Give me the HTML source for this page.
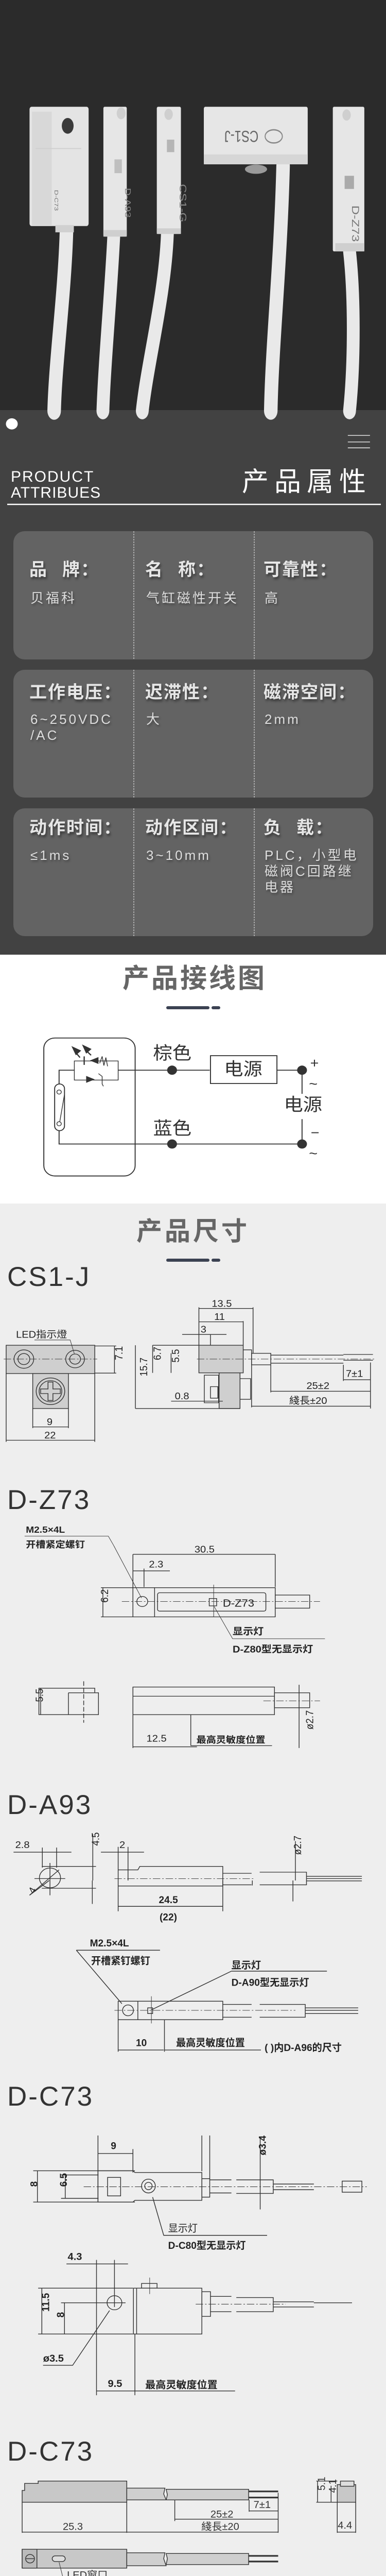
<!DOCTYPE html>
<html style="height:5066px;overflow:hidden"><head><meta charset="utf-8">
<style>
*{margin:0;padding:0;box-sizing:border-box}
body{width:750px;height:5066px;position:relative;background:#eeeeee;font-family:"Liberation Sans","Noto Sans CJK SC",sans-serif;overflow:hidden}
.a{position:absolute;white-space:nowrap;line-height:1}
.lb{font-size:34px;font-weight:bold;color:#e6e6e6;letter-spacing:2px;text-shadow:2px 4px 5px rgba(0,0,0,.45)}
.vl{font-size:26px;color:#dedede;letter-spacing:4px;line-height:31px;text-shadow:2px 3px 4px rgba(0,0,0,.35)}
.mt{font-size:53px;color:#333;letter-spacing:3px}
svg text{font-family:"Liberation Sans","Noto Sans CJK SC",sans-serif}
</style></head><body>
<svg style="position:absolute;left:0;top:0;display:block" width="750" height="5066" viewBox="0 0 750 5066" overflow="hidden">
<rect x="0" y="0" width="750" height="800" fill="#2b2b2b"/>
<rect x="0" y="796" width="750" height="1057" fill="#424242"/>
<rect x="0" y="1853" width="750" height="483" fill="#ffffff"/>
<rect x="0" y="2336" width="750" height="2730" fill="#eeeeee"/>

<g transform="translate(0,0) scale(0.4783,0.6378)">
 <g fill="none" stroke="#e9e9e9" stroke-linecap="round">
  <path d="M270,705 C262,900 225,1100 220,1250" stroke-width="55"/>
  <path d="M462,720 C450,900 425,1100 418,1250" stroke-width="52"/>
  <path d="M680,712 C670,900 600,1100 578,1250" stroke-width="52"/>
  <path d="M1150,505 C1140,800 1105,1050 1100,1250" stroke-width="55"/>
  <path d="M1420,765 C1440,900 1440,1100 1420,1250" stroke-width="52"/>
 </g>
 <rect x="120" y="325" width="240" height="363" rx="8" fill="#e4e4e4"/>
 <rect x="130" y="340" width="80" height="345" fill="#d8d8d8"/>
 <line x1="145" y1="452" x2="330" y2="452" stroke="#cfcfcf" stroke-width="3"/>
 <circle cx="275" cy="383" r="24" fill="#3a3a3a"/>
 <rect x="225" y="685" width="75" height="22" fill="#d0d0d0"/>
 <text x="240" y="640" font-size="22" fill="#777" transform="rotate(90 262 600)">D-C73</text>
 <rect x="420" y="325" width="95" height="395" rx="5" fill="#e6e6e6"/>
 <circle cx="492" cy="345" r="18" fill="#cfcfcf"/>
 <rect x="465" y="485" width="30" height="42" fill="#bfbfbf"/>
 <rect x="420" y="700" width="95" height="20" fill="#cfcfcf"/>
 <rect x="637" y="325" width="98" height="387" rx="5" fill="#e6e6e6"/>
 <circle cx="685" cy="348" r="17" fill="#cfcfcf"/>
 <rect x="678" y="425" width="30" height="38" fill="#b5b5b5"/>
 <rect x="637" y="695" width="98" height="17" fill="#cfcfcf"/>
 <rect x="828" y="325" width="422" height="175" rx="6" fill="#e6e6e6"/>
 <rect x="828" y="470" width="422" height="30" fill="#d6d6d6"/>
 <ellipse cx="1040" cy="515" rx="45" ry="14" fill="#9a9a9a"/>
 <ellipse cx="1112" cy="415" rx="35" ry="20" fill="none" stroke="#888" stroke-width="4"/>
 <text x="880" y="432" font-size="50" fill="#666" transform="rotate(180 965 415)">CS1-J</text>
 <rect x="1352" y="325" width="128" height="440" rx="5" fill="#e6e6e6"/>
 <circle cx="1408" cy="350" r="17" fill="#cfcfcf"/>
 <rect x="1400" y="535" width="38" height="40" fill="#aaaaaa"/>
 <rect x="1362" y="740" width="118" height="25" fill="#cfcfcf"/>
 <text x="1395" y="640" font-size="40" fill="#777" transform="rotate(90 1420 650)">D-Z73</text>
 <text x="650" y="560" font-size="38" fill="#888" transform="rotate(90 690 600)">CS1-G</text>
 <text x="440" y="560" font-size="32" fill="#888" transform="rotate(90 468 600)">D-A93</text>
 <ellipse cx="48" cy="1290" rx="24" ry="17" fill="#fff"/>
 <g stroke="#fff" stroke-width="2"><line x1="1413" y1="1325" x2="1503" y2="1325"/><line x1="1413" y1="1345" x2="1503" y2="1345"/><line x1="1413" y1="1363" x2="1503" y2="1363"/></g>
</g>
<line x1="14" y1="979" x2="740" y2="979" stroke="#fff" stroke-width="2.5"/>

<g fill="#636363">
<rect x="26" y="1031" width="699" height="249" rx="22"/>
<rect x="26" y="1300" width="699" height="248" rx="22"/>
<rect x="26" y="1569" width="699" height="248" rx="22"/>
</g>
<g stroke="#f2f2f2" stroke-width="1" stroke-dasharray="3,2">
<line x1="260" y1="1031" x2="260" y2="1280"/><line x1="494" y1="1031" x2="494" y2="1280"/>
<line x1="260" y1="1300" x2="260" y2="1548"/><line x1="494" y1="1300" x2="494" y2="1548"/>
<line x1="260" y1="1569" x2="260" y2="1817"/><line x1="494" y1="1569" x2="494" y2="1817"/>
</g>
<rect x="323" y="1953" width="84" height="6" rx="3" fill="#3b4252"/>
<rect x="411" y="1953" width="17" height="6" rx="3" fill="#3b4252"/>
<rect x="323" y="2443" width="84" height="6" rx="3" fill="#3b4252"/>
<rect x="411" y="2443" width="17" height="6" rx="3" fill="#3b4252"/>

<g transform="translate(0,1700) scale(0.4783,0.4464)" stroke="#333" fill="none" stroke-width="4">
 <rect x="178" y="705" width="371" height="600" rx="45"/>
 <path d="M240,905 V845 H302 M480,845 H852 M1125,845 H1227 V948 M1227,1058 V1166 H240 V1108"/>
 <rect x="302" y="805" width="178" height="83" stroke-width="3"/>
 <rect x="855" y="782" width="270" height="121"/>
 <rect x="222" y="905" width="40" height="203" rx="20"/>
 <circle cx="240" cy="940" r="9" stroke-width="3"/><circle cx="240" cy="1078" r="9" stroke-width="3"/>
 <line x1="262" y1="950" x2="243" y2="1068" stroke-width="3"/>
 <line x1="342" y1="785" x2="342" y2="822" stroke-width="5"/>
 <polygon points="365,803 400,788 400,818" fill="#333" stroke="none"/>
 <polygon points="385,885 350,870 350,900" fill="#333" stroke="none"/>
 <path d="M400,860 L415,872 V905 L420,915 M405,815 L415,785 L422,825 L430,790 L437,828" stroke-width="3"/>
 <polygon points="290,740 330,760 308,780" fill="#333" stroke="none"/><line x1="305" y1="765" x2="325" y2="790" stroke-width="5"/>
 <polygon points="333,733 372,753 350,773" fill="#333" stroke="none"/><line x1="348" y1="758" x2="370" y2="780" stroke-width="5"/>
 <g fill="#333" stroke="none"><circle cx="699" cy="845" r="20"/><circle cx="1227" cy="845" r="20"/><circle cx="699" cy="1166" r="20"/><circle cx="1227" cy="1166" r="20"/></g>
 <g fill="#333" stroke="none" font-size="78">
  <text x="622" y="797">棕色</text><text x="622" y="1125">蓝色</text>
  <text x="910" y="867">电源</text><text x="1153" y="1022">电源</text>
  <text x="1260" y="835" font-size="60">+</text><text x="1255" y="925" font-size="60">~</text>
  <text x="1262" y="1137" font-size="60">−</text><text x="1255" y="1228" font-size="60">~</text>
 </g>
</g>

<g transform="translate(0,2350) scale(0.4783,0.4464)" stroke="#333" fill="none" stroke-width="3" font-size="42">
 <rect x="25" y="585" width="360" height="123" fill="#cfcfcf"/>
 <rect x="133" y="708" width="145" height="152" fill="#cfcfcf"/>
 <path d="M25,708 V1005 M385,708 V1005 M133,860 V945 M278,860 V945"/>
 <circle cx="97" cy="645" r="40"/><circle cx="97" cy="645" r="24"/>
 <circle cx="305" cy="645" r="38"/><circle cx="305" cy="645" r="22"/>
 <circle cx="205" cy="785" r="58"/><circle cx="205" cy="785" r="46"/>
 <path d="M195,745 H215 V775 H245 V795 H215 V825 H195 V795 H165 V775 H195Z" stroke-width="3"/>
 <line x1="15" y1="645" x2="395" y2="645" stroke-dasharray="30,8,6,8" stroke-width="2"/>
 <path d="M385,588 H472 M385,706 H472 M465,588 V706"/>
 <path d="M140,562 H285 L302,622" stroke-width="2"/>
 <path d="M133,940 H278 M25,998 H385"/>
 <rect x="808" y="585" width="180" height="120" fill="#cfcfcf"/>
 <rect x="890" y="705" width="85" height="155" fill="#cfcfcf"/>
 <path d="M620,585 H808 M975,730 H1018 V820 H975 M830,715 H888 V835 H830Z M855,765 H885 V815 H855Z"/>
 <rect x="1022" y="620" width="78" height="50"/>
 <path d="M988,605 H1022 V680 M1100,628 H1395 M1100,663 H1395 M1395,625 H1515 M1395,650 H1515" />
 <line x1="800" y1="645" x2="1520" y2="645" stroke-dasharray="30,8,6,8" stroke-width="2"/>
 <path d="M808,420 V585 M1028,420 V620 M988,480 V585 M855,538 V585 M808,425 H1028 M808,483 H988 M740,538 H920"/>
 <path d="M550,585 V860 M620,585 V705 M695,620 V705 M695,828 H905 M550,860 H975"/>
 <path d="M1395,670 V740 M1505,660 V860 M1395,735 H1505 M1100,670 V790 M1100,785 H1505 M1022,680 V855 M1022,850 H1505"/>
 <g fill="#222" stroke="none">
  <text x="65" y="552">LED指示燈</text>
  <text x="190" y="932">9</text><text x="180" y="990">22</text>
  <text x="458" y="690" transform="rotate(-90 458 650)" font-size="44">7.1</text>
  <text x="860" y="418">13.5</text><text x="870" y="475">11</text><text x="815" y="530">3</text>
  <text x="548" y="770" transform="rotate(-90 548 720)">15.7</text>
  <text x="613" y="690" transform="rotate(-90 613 650)">6.7</text>
  <text x="688" y="700" transform="rotate(-90 688 660)">5.5</text>
  <text x="710" y="820">0.8</text><text x="1405" y="722">7±1</text>
  <text x="1245" y="775">25±2</text><text x="1175" y="840">綫長±20</text>
  <text x="105" y="1400" font-weight="bold" font-size="40">M2.5×4L</text>
  <text x="105" y="1465" font-weight="bold" font-size="40">开槽紧定螺钉</text>
 </g>
 <path d="M100,1415 H440 L462,1456" stroke-width="2"/>
</g>

<g transform="translate(0,3000) scale(0.4783,0.4464)" stroke="#333" fill="none" stroke-width="3" font-size="42">
 <path d="M462,0 L575,228" stroke-width="2"/>
 <path d="M540,38 H1118 M540,38 V185 M1118,38 V180 M540,110 H690 M585,100 V180"/>
 <path d="M410,183 H1118 V310 H410"/>
 <line x1="540" y1="183" x2="540" y2="310"/><line x1="628" y1="183" x2="628" y2="310"/>
 <rect x="640" y="205" width="440" height="80" rx="8"/>
 <circle cx="578" cy="243" r="22"/>
 <path d="M418,183 V310"/>
 <rect x="850" y="230" width="30" height="32"/><line x1="868" y1="170" x2="868" y2="310" stroke-width="2"/>
 <rect x="1118" y="215" width="140" height="57"/>
 <line x1="495" y1="243" x2="1300" y2="243" stroke-dasharray="30,8,6,8" stroke-width="2"/>
 <path d="M870,265 L945,405 H1320" stroke-width="2"/>
 <path d="M158,620 H385 V640 H400 V735 H158Z M278,640 V735 M278,640 H385"/>
 <line x1="340" y1="590" x2="340" y2="770" stroke-dasharray="20,8"/>
 <path d="M165,620 V735"/>
 <rect x="540" y="615" width="575" height="120"/><line x1="540" y1="655" x2="1115" y2="655"/>
 <rect x="1115" y="640" width="143" height="65"/>
 <line x1="1070" y1="675" x2="1300" y2="675" stroke-dasharray="30,8,6,8" stroke-width="2"/>
 <path d="M1215,605 V880 M540,735 V880 M775,735 V870 M540,875 H800 M775,870 H1105"/>
 <g fill="#222" stroke="none">
  <text x="790" y="30">30.5</text><text x="605" y="95">2.3</text>
  <text x="402" y="285" transform="rotate(-90 402 248)">6.2</text>
  <text x="905" y="265" font-size="46" font-family="Liberation Mono">D-Z73</text>
  <text x="945" y="388" font-weight="bold">显示灯</text>
  <text x="945" y="465" font-weight="bold">D-Z80型无显示灯</text>
  <text x="140" y="715" transform="rotate(-90 140 680)">5.5</text>
  <text x="595" y="852">12.5</text>
  <text x="798" y="858" font-weight="bold" font-size="40">最高灵敏度位置</text>
  <text x="1212" y="860" transform="rotate(-90 1212 800)">ø2.7</text>
 </g>
 <path d="M55,1333 H290 M172,1313 V1400 M230,1313 V1400 M377,1255 V1456 M170,1395 H390 M170,1490 H390"/>
 <circle cx="203" cy="1445" r="43"/>
 <path d="M140,1448 H265 M203,1380 V1456 M120,1520 L240,1410"/>
 <path d="M410,1333 H585 M480,1310 V1456 M520,1310 V1456"/>
 <path d="M480,1410 H560 L568,1395 H905 V1480 H480"/>
 <line x1="465" y1="1448" x2="1030" y2="1448" stroke-dasharray="30,8,6,8" stroke-width="2"/>
 <path d="M905,1425 H1022 M905,1475 H1022 M1055,1420 H1245 V1475 H1055 M1245,1438 H1470 M1245,1448 H1470 M1245,1458 H1470 M1200,1285 V1456"/>
 <g fill="#222" stroke="none">
  <text x="62" y="1315">2.8</text><text x="485" y="1315">2</text>
  <text x="368" y="1340" transform="rotate(-90 368 1305)">4.5</text>
  <text x="120" y="1515" transform="rotate(-60 130 1500)">4</text>
  <text x="1178" y="1390" transform="rotate(-90 1178 1345)">ø2.7</text>
 </g>
</g>

<g transform="translate(0,3650) scale(0.4783)" stroke="#333" fill="none" stroke-width="3" font-size="40">
 <path d="M120,60 L200,0 M203,0 V60 M480,0 V125 M905,0 V125 M480,105 H905 M1190,0 V85 M375,0 V95 M905,0 V25 M1025,0 V20"/>
 <path d="M310,283 H650 M310,283 L495,500 M940,368 H1328 M940,368 L615,525"/>
 <rect x="480" y="490" width="425" height="75"/>
 <line x1="560" y1="490" x2="560" y2="565"/>
 <circle cx="520" cy="527" r="22"/>
 <rect x="600" y="517" width="20" height="23"/>
 <line x1="615" y1="470" x2="615" y2="580" stroke-width="2"/>
 <path d="M905,503 H1022 M905,555 H1022 M1055,503 H1240 V555 H1055 M1240,517 H1455 M1240,527 H1455 M1240,540 H1455"/>
 <line x1="465" y1="527" x2="1200" y2="527" stroke-dasharray="30,8,6,8" stroke-width="2"/>
 <path d="M480,565 V695 M668,565 V695 M480,688 H665 M668,688 H1060"/>
 <g fill="#222" stroke="none" font-weight="bold">
  <text x="645" y="92">24.5</text><text x="648" y="162">(22)</text>
  <text x="365" y="268">M2.5×4L</text><text x="370" y="340">开槽紧钉螺钉</text>
  <text x="940" y="358">显示灯</text><text x="940" y="428">D-A90型无显示灯</text>
  <text x="552" y="672">10</text><text x="715" y="672">最高灵敏度位置</text>
  <text x="1075" y="692">( )内D-A96的尺寸</text>
 </g>
 <path d="M398,1035 V1305 M540,1090 V1185 M398,1108 H540 M135,1178 H548 M135,1305 H548 M152,1178 V1305 M248,1195 H400 M248,1290 H400 M265,1195 V1290"/>
 <path d="M398,1178 H540 L548,1185 H820 V1298 H548 L540,1305 H398Z"/>
 <path d="M820,1035 V1180 M852,1035 V1210"/>
 <rect x="820" y="1210" width="32" height="75"/>
 <path d="M852,1215 H940 M852,1268 H940 M960,1215 H1110 V1270 H960 M1110,1232 H1275 M1110,1255 H1275"/>
 <rect x="1390" y="1220" width="80" height="45"/>
 <rect x="437" y="1205" width="53" height="75"/>
 <circle cx="603" cy="1240" r="28"/><circle cx="603" cy="1240" r="15"/>
 <line x1="340" y1="1243" x2="1490" y2="1243" stroke-dasharray="30,8,6,8" stroke-width="2"/>
 <path d="M1057,1040 V1335 M620,1285 L665,1440 H1085"/>
 <g fill="#222" stroke="none" font-weight="bold">
  <text x="450" y="1090">9</text>
  <text x="135" y="1260" transform="rotate(-90 135 1243)">8</text>
  <text x="245" y="1270" transform="rotate(-90 245 1243)">6.5</text>
  <text x="1045" y="1150" transform="rotate(-90 1045 1115)">ø3.4</text>
  <text x="683" y="1425" font-weight="normal">显示灯</text>
  <text x="683" y="1495">D-C80型无显示灯</text>
 </g>
</g>

<g transform="translate(0,4350) scale(0.4783,0.4566)" stroke="#333" fill="none" stroke-width="3" font-size="42">
 <path d="M270,97 H520 M392,80 V655 M465,80 V280 M155,200 H540 M155,395 H540 M248,262 H510 M170,200 V395 M262,262 V395"/>
 <circle cx="465" cy="262" r="30"/>
 <rect x="542" y="200" width="278" height="195"/><line x1="555" y1="200" x2="555" y2="395"/>
 <rect x="575" y="180" width="63" height="20"/><line x1="608" y1="155" x2="608" y2="225" stroke-width="2"/>
 <rect x="820" y="215" width="35" height="105"/>
 <path d="M855,235 H940 M855,300 H940 M960,240 H1110 V300 H960 M1110,258 H1275 M1110,280 H1275 M1275,262 H1430"/>
 <line x1="795" y1="268" x2="1160" y2="268" stroke-dasharray="30,8,6,8" stroke-width="2"/>
 <path d="M445,295 L295,528 H175 M392,637 H548 M548,395 V655 M548,637 H955"/>
 <g fill="#222" stroke="none" font-weight="bold">
  <text x="275" y="80">4.3</text>
  <text x="155" y="345" transform="rotate(-90 155 300)">11.5</text>
  <text x="245" y="340" transform="rotate(-90 245 325)">8</text>
  <text x="175" y="512">ø3.5</text><text x="438" y="620">9.5</text>
  <text x="590" y="625">最高灵敏度位置</text>
 </g>
 <path d="M90,1060 H100 V1030 H155 V1020 H515 V1110 H90Z" fill="#c8c8c8"/>
 <path d="M515,1050 H670 L665,1075 L675,1100 H515Z" fill="#cfcfcf"/>
 <path d="M675,1055 H1010 V1100 H675 L680,1078Z" fill="#cfcfcf"/>
 <path d="M1010,1064 H1130 M1010,1090 H1130" stroke-width="7"/>
 <path d="M90,1110 V1240 M515,1110 V1240 M710,1100 V1190 M1012,1100 V1150 M1130,1070 V1240 M90,1237 H1130 M710,1182 H1130 M1012,1147 H1130"/>
 <rect x="1370" y="1035" width="75" height="75" fill="#c8c8c8"/>
 <rect x="1383" y="1020" width="55" height="22" fill="#ddd"/>
 <path d="M1370,1110 V1240 M1445,1110 V1240 M1370,1237 H1445 M1290,1020 V1110 M1345,1040 V1110 M1285,1020 H1370 M1285,1110 H1370"/>
 <rect x="90" y="1310" width="425" height="80" fill="#c8c8c8"/>
 <rect x="90" y="1310" width="60" height="80" fill="#bbb"/>
 <circle cx="122" cy="1350" r="18"/><line x1="106" y1="1350" x2="138" y2="1350"/>
 <rect x="212" y="1338" width="53" height="24" rx="12" fill="#ddd"/>
 <path d="M515,1325 H670 L665,1350 L675,1380 H515Z" fill="#cfcfcf"/>
 <path d="M675,1328 H1010 V1375 H675 L680,1350Z" fill="#cfcfcf"/>
 <path d="M1010,1338 H1130 M1010,1362 H1130" stroke-width="7"/>
 <path d="M240,1365 L258,1440 H455" stroke-width="2"/>
 <g fill="#333" stroke="none">
  <text x="1030" y="1135">7±1</text><text x="855" y="1175">25±2</text>
  <text x="255" y="1228">25.3</text><text x="818" y="1228">綫長±20</text>
  <text x="1372" y="1222">4.4</text>
  <text x="1290" y="1100" transform="rotate(-90 1285 1065)">5.1</text>
  <text x="1340" y="1105" transform="rotate(-90 1335 1075)">4.1</text>
  <text x="272" y="1433">LED窗口</text>
 </g>
</g>
</svg>

<div class="a" style="left:21px;top:911px;font-size:30px;color:#fff;letter-spacing:2px">PRODUCT</div>
<div class="a" style="left:21px;top:942px;font-size:30px;color:#fff;letter-spacing:1px">ATTRIBUES</div>
<div class="a" style="left:470px;top:910px;font-size:52px;color:#fff;letter-spacing:11px">产品属性</div>

<div class="a lb" style="left:57px;top:1089px">品<span style="margin-left:28px">牌：</span></div>
<div class="a lb" style="left:282px;top:1089px">名<span style="margin-left:28px">称：</span></div>
<div class="a lb" style="left:512px;top:1089px">可靠性：</div>
<div class="a vl" style="left:59px;top:1146px">贝福科</div>
<div class="a vl" style="left:284px;top:1146px">气缸磁性开关</div>
<div class="a vl" style="left:514px;top:1146px">高</div>

<div class="a lb" style="left:57px;top:1327px">工作电压：</div>
<div class="a lb" style="left:282px;top:1327px">迟滞性：</div>
<div class="a lb" style="left:512px;top:1327px">磁滞空间：</div>
<div class="a vl" style="left:59px;top:1381px">6~250VDC<br>/AC</div>
<div class="a vl" style="left:284px;top:1381px">大</div>
<div class="a vl" style="left:514px;top:1381px">2mm</div>

<div class="a lb" style="left:57px;top:1590px">动作时间：</div>
<div class="a lb" style="left:282px;top:1590px">动作区间：</div>
<div class="a lb" style="left:512px;top:1590px">负<span style="margin-left:28px">载：</span></div>
<div class="a vl" style="left:59px;top:1645px">≤1ms</div>
<div class="a vl" style="left:284px;top:1645px">3~10mm</div>
<div class="a vl" style="left:514px;top:1645px">PLC，小型电<br>磁阀C回路继<br>电器</div>

<div class="a" style="left:238px;top:1874px;font-size:52px;font-weight:bold;color:#666;letter-spacing:4px">产品接线图</div>
<div class="a" style="left:265px;top:2365px;font-size:50px;font-weight:bold;color:#666;letter-spacing:5px">产品尺寸</div>

<div class="a mt" style="left:14px;top:2452px">CS1-J</div>
<div class="a mt" style="left:14px;top:2885px">D-Z73</div>
<div class="a mt" style="left:14px;top:3477px">D-A93</div>
<div class="a mt" style="left:14px;top:4043px">D-C73</div>
<div class="a mt" style="left:14px;top:4732px">D-C73</div>
</body></html>
